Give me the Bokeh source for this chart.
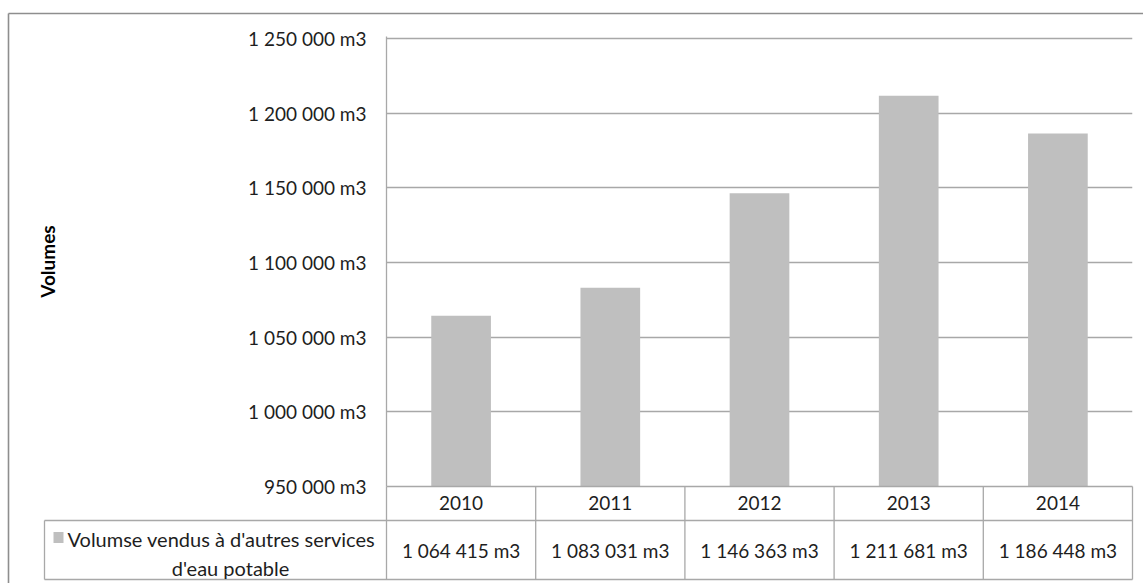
from bokeh.plotting import figure
from bokeh.models import Range1d, FactorRange, FixedTicker, CustomJSTickFormatter
from bokeh.core.properties import value
from bokeh.embed import file_html
from bokeh.resources import INLINE

# ---- data ----
years = ["2010", "2011", "2012", "2013", "2014"]
volumes = [1064415, 1083031, 1146363, 1211681, 1186448]
y_ticks = [950000, 1000000, 1050000, 1100000, 1150000, 1200000, 1250000]
series_lines = ["Volumse vendus à d'autres services", "d'eau potable"]
axis_title = "Volumes"


def fmt_m3(v):
    return f"{v:,}".replace(",", " ") + " m3"


# ---- layout (canvas pixels) ----
W, H = 1143, 583
LEFT, RIGHT, TOP, BOTTOM = 386, 1132, 36, 486
ROW1, ROW2 = 520, 579          # bottom edges of the two table rows
LEG_L = 44                     # left edge of the legend cell

COL_W = (RIGHT - LEFT) / len(years)


def cx(px):
    """canvas x pixel -> category-axis units (one unit per year column)"""
    return (px - LEFT) / COL_W


FONT = "Lato"
TXT = "#1e1e1e"
BAR = "#bfbfbf"
GRID = "#a8a8a8"
BORDER = "#8e8e8e"
NUM_SIZE = "19px"

# keep a little headroom so the top gridline is not cut by the frame edge
span = y_ticks[-1] - y_ticks[0]
p = figure(width=W, height=H,
           x_range=FactorRange(*years),
           y_range=Range1d(y_ticks[0], y_ticks[-1] + span * 2 / 448),
           output_backend="svg", toolbar_location=None,
           min_border_left=LEFT, min_border_right=W - RIGHT,
           min_border_top=TOP, min_border_bottom=H - BOTTOM)
p.outline_line_color = None
p.background_fill_color = "white"
p.border_fill_color = "white"

# pixel-space vertical range for the data table drawn under the plot area
p.extra_y_ranges = {"px": Range1d(BOTTOM, TOP)}

# ---- bars ----
p.vbar(x=years, top=volumes, bottom=y_ticks[0], width=0.4,
       fill_color=BAR, line_color=None)

# ---- y axis ----
yax = p.yaxis[0]
yax.ticker = FixedTicker(ticks=y_ticks)
yax.formatter = CustomJSTickFormatter(code="""
    return tick.toFixed(0).replace(/\\B(?=(\\d{3})+(?!\\d))/g, " ") + " m3";
""")
yax.major_tick_out = 0
yax.major_tick_in = 0
yax.minor_tick_out = 0
yax.minor_tick_in = 0
yax.major_label_standoff = 20
yax.major_label_text_font = FONT
yax.major_label_text_font_size = NUM_SIZE
yax.major_label_text_color = TXT
yax.axis_line_color = GRID
yax.axis_line_width = 1.3
yax.axis_label = axis_title
yax.axis_label_text_font = FONT
yax.axis_label_text_font_style = "bold"
yax.axis_label_text_font_size = "19px"
yax.axis_label_text_color = "#000000"
yax.axis_label_standoff = 186

p.ygrid.ticker = FixedTicker(ticks=y_ticks)
p.ygrid.grid_line_color = GRID
p.ygrid.grid_line_width = 1.3
p.xgrid.grid_line_color = None

# ---- x axis: year row of the table ----
xax = p.xaxis[0]
xax.major_tick_out = 0
xax.major_tick_in = 0
xax.major_label_standoff = 9
xax.major_label_text_font = FONT
xax.major_label_text_font_size = NUM_SIZE
xax.major_label_text_color = TXT
xax.axis_line_color = GRID
xax.axis_line_width = 1.3

# ---- data table under the plot ----
n = len(years)
# column separators (category boundaries)
p.segment(x0=list(range(n + 1)), y0=[BOTTOM] * (n + 1),
          x1=list(range(n + 1)), y1=[ROW2] * (n + 1),
          y_range_name="px", line_color=GRID, line_width=1.3, level="overlay")
# horizontal rules of the value row and legend cell
p.segment(x0=[cx(LEG_L)] * 3, y0=[ROW1, ROW2, ROW1],
          x1=[n, n, cx(LEG_L)], y1=[ROW1, ROW2, ROW2],
          y_range_name="px", line_color=GRID, line_width=1.3, level="overlay")

# value row
p.text(x=years, y=[(ROW1 + ROW2) / 2] * n, text=[fmt_m3(v) for v in volumes],
       y_range_name="px", text_font=value(FONT), text_font_size=NUM_SIZE,
       text_color=TXT, text_align="center", text_baseline="middle",
       level="overlay")

# legend key + series name
p.rect(x=[cx(58)], y=[537], width=10, height=11, width_units="screen",
       height_units="screen", y_range_name="px",
       fill_color=BAR, line_color=None, level="overlay")
p.text(x=[cx(67), cx(230)], y=[538, 567], text=series_lines, y_range_name="px",
       text_font=value(FONT), text_font_size="20px", text_color=TXT,
       text_align=["left", "center"], text_baseline="middle", level="overlay")

# chart-area frame (top and left edges visible)
p.segment(x0=[cx(8), cx(8)], y0=[13, 13], x1=[cx(W + 5), cx(8)], y1=[13, H + 5],
          y_range_name="px", line_color=BORDER, line_width=1.6, level="overlay")

open("out.html", "w").write(file_html(p, INLINE))
